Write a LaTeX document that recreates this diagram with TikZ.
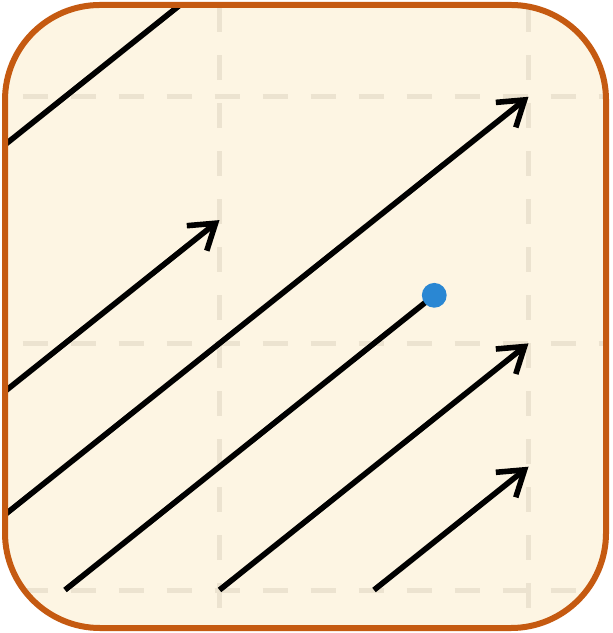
\documentclass[tikz,border=0pt]{standalone}
\usetikzlibrary{arrows.meta}
\definecolor{framebrown}{HTML}{C55A11}
\definecolor{paper}{HTML}{FDF5E3}
\definecolor{gridtan}{HTML}{ECE3D0}
\definecolor{dotblue}{HTML}{2A87D3}
\begin{document}
\begin{tikzpicture}[x=77.25pt, y=61.65pt,
  flow/.style={line width=2.8pt, -{Straight Barb[length=12pt,width=16pt]}},
  gridline/.style={gridtan, line width=2.5pt, dash pattern=on 12.5pt off 11.5pt}]
  \def\frameR{47.5pt}
  \useasboundingbox (-0.4207,-0.3487) rectangle (3.5405,4.785);
  \coordinate (dot) at (2.39,2.39);
  \begin{scope}
    \clip[rounded corners=\frameR] (-0.3883,-0.3082) rectangle (3.5016,4.7445);
    \fill[paper] (-1,-1) rectangle (4,5);
    % dashed grid
    \foreach \i in {1,3}
      \draw[gridline] (\i,4.728) -- (\i,-0.5);
    \foreach \j in {0,2,4}
      \draw[gridline] (-0.272,\j) -- (4,\j);
    % flow lines
    \draw[flow] (-1,3) -- (1,5);
    \draw[flow] (-1,1) -- (1,3);
    \draw[flow] (-1,0) -- (3,4);
    \draw[line width=2.8pt] (0,0) -- (dot);
    \draw[flow] (1,0) -- (3,2);
    \draw[flow] (2,0) -- (3,1);
    \fill[dotblue] (dot) circle (6.2pt);
  \end{scope}
  \draw[framebrown, line width=3pt, rounded corners=\frameR]
    (-0.3883,-0.3082) rectangle (3.5016,4.7445);
\end{tikzpicture}
\end{document}
